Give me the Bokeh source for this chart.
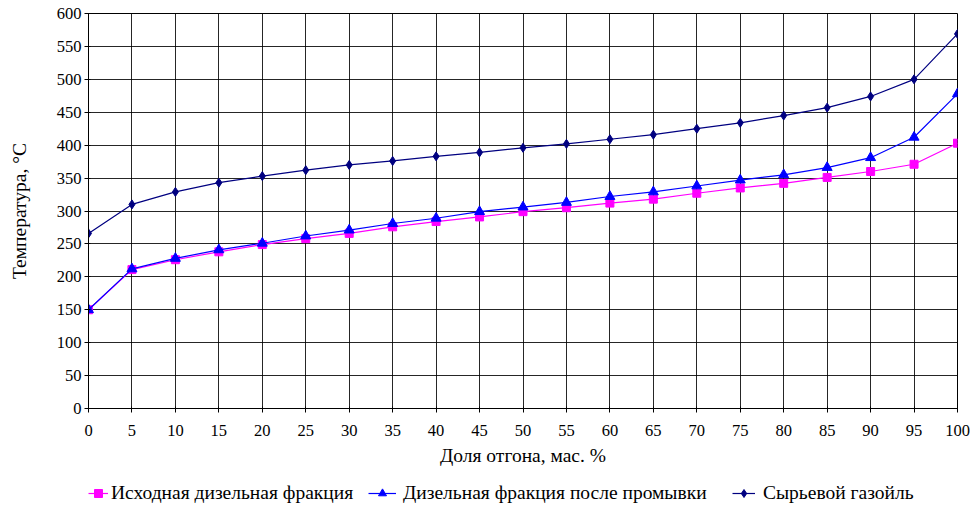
from bokeh.plotting import figure
from bokeh.layouts import column
from bokeh.models import Range1d, FixedTicker, Legend, LegendItem
from bokeh.embed import file_html
from bokeh.resources import INLINE

x_vals = [0, 5, 10, 15, 20, 25, 30, 35, 40, 45, 50, 55, 60, 65, 70, 75, 80, 85, 90, 95, 100]
initial_diesel = [150, 211, 226, 238, 249, 258, 266, 276, 284, 291, 299, 305, 312, 318, 327, 335, 342, 351, 360, 371, 403]
washed_diesel = [150, 212, 228, 241, 251, 262, 271, 281, 289, 299, 306, 313, 322, 329, 338, 347, 355, 366, 381, 412, 478]
gasoil = [266, 310, 329, 343, 353, 362, 370, 376, 383, 389, 396, 402, 409, 416, 425, 434, 445, 457, 474, 500, 569]

labels = ["Исходная дизельная фракция", "Дизельная фракция после промывки", "Сырьевой газойль"]
x_ticks = list(range(0, 101, 5))
y_ticks = list(range(0, 601, 50))

colors = ["#FF00FF", "#0000FF", "#000080"]
markers = ["square", "triangle", "diamond"]
sizes = [8, 10, 9]

FONT = "Liberation Serif"
TICK_SIZE = "16.5px"
TITLE_SIZE = "19.5px"

p = figure(width=976, height=475, output_backend="svg", toolbar_location=None,
           x_range=Range1d(0, 100), y_range=Range1d(0, 600),
           min_border_left=88, min_border_right=19, min_border_top=13, min_border_bottom=67)

p.outline_line_color = "black"
p.outline_line_width = 1
p.background_fill_color = "white"
p.border_fill_color = "white"

for ax in (p.xaxis[0], p.yaxis[0]):
    ax.major_label_text_font = FONT
    ax.major_label_text_font_size = TICK_SIZE
    ax.major_label_text_color = "black"
    ax.axis_label_text_font = FONT
    ax.axis_label_text_font_size = TITLE_SIZE
    ax.axis_label_text_font_style = "normal"
    ax.axis_label_text_color = "black"
    ax.axis_line_color = "black"
    ax.major_tick_line_color = "black"
    ax.minor_tick_line_color = None
    ax.major_tick_out = 4
    ax.major_tick_in = 2

p.xaxis[0].ticker = FixedTicker(ticks=x_ticks)
p.yaxis[0].ticker = FixedTicker(ticks=y_ticks)
p.xaxis[0].axis_label = "Доля отгона, мас. %"
p.yaxis[0].axis_label = "Температура, °C"
p.xaxis[0].major_label_standoff = 12
p.xaxis[0].axis_label_standoff = 6
p.yaxis[0].major_label_standoff = 3
p.yaxis[0].axis_label_standoff = 24

p.xgrid[0].ticker = FixedTicker(ticks=x_ticks)
p.ygrid[0].ticker = FixedTicker(ticks=y_ticks)
p.xgrid.grid_line_color = "black"
p.ygrid.grid_line_color = "black"
p.xgrid.grid_line_alpha = 0.85
p.ygrid.grid_line_alpha = 0.85

series = [initial_diesel, washed_diesel, gasoil]
for ys, c, mk, sz in zip(series, colors, markers, sizes):
    p.line(x_vals, ys, line_color=c, line_width=1.2)
    p.scatter(x_vals, ys, marker=mk, size=sz, fill_color=c, line_color=c)

# Legend strip below the chart (its renderers hold the same series but lie outside its view)
lf = figure(width=976, height=30, output_backend="svg", toolbar_location=None,
            x_range=Range1d(-20, -10), y_range=Range1d(-20, -10),
            x_axis_type=None, y_axis_type=None,
            min_border_left=88, min_border_right=19, min_border_top=0, min_border_bottom=0)
lf.outline_line_color = None
lf.grid.visible = False
lf.background_fill_color = "white"
lf.border_fill_color = "white"

legend_pos = [(0, 20, 3), (280, 28, 7), (644, 23, 8)]
for ys, lab, c, mk, sz, (lx, gw, so) in zip(series, labels, colors, markers, sizes, legend_pos):
    lr = lf.line(x_vals, ys, line_color=c, line_width=1.2)
    mr = lf.scatter(x_vals, ys, marker=mk, size=sz - 1, fill_color=c, line_color=c)
    lg = Legend(items=[LegendItem(label=lab, renderers=[lr, mr])],
                location=(lx, 1), orientation="horizontal")
    lg.label_text_font = FONT
    lg.label_text_font_size = TITLE_SIZE
    lg.label_text_color = "black"
    lg.border_line_color = None
    lg.background_fill_alpha = 0
    lg.glyph_width = gw
    lg.glyph_height = 20
    lg.label_standoff = so
    lg.margin = 0
    lg.padding = 0
    lg.spacing = 0
    lf.add_layout(lg)

layout = column(p, lf, spacing=0)
open("out.html", "w").write(file_html(layout, INLINE))
